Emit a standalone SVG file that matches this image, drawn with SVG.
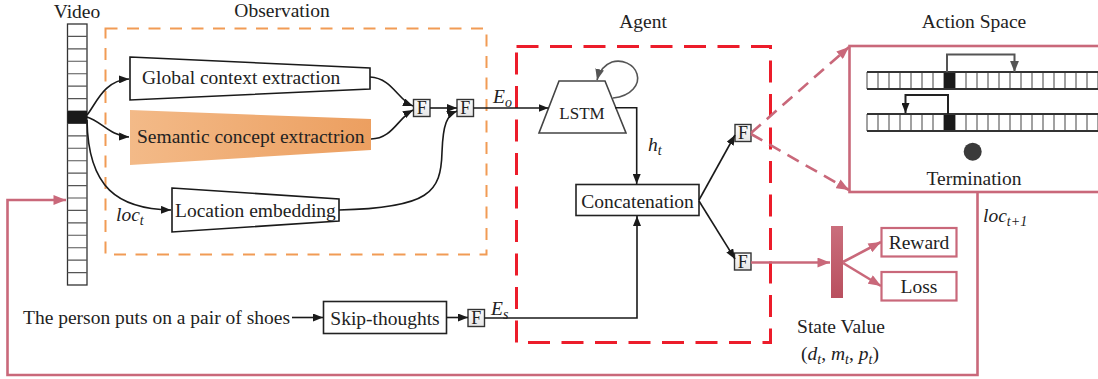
<svg xmlns="http://www.w3.org/2000/svg" width="1098" height="379" viewBox="0 0 1098 379" font-family="'Liberation Serif', 'Times New Roman', serif">
<defs>
<marker id="ab" viewBox="0 0 10 8" refX="10" refY="4" markerWidth="10" markerHeight="8" markerUnits="userSpaceOnUse" orient="auto"><path d="M0,0 L10,4 L0,8 z" fill="#1a1a1a"/></marker>
<marker id="ag" viewBox="0 0 10 8" refX="10" refY="4" markerWidth="11" markerHeight="9" markerUnits="userSpaceOnUse" orient="auto"><path d="M0,0 L10,4 L0,8 z" fill="#555"/></marker>
<marker id="ap" viewBox="0 0 10 8" refX="10" refY="4" markerWidth="13" markerHeight="10" markerUnits="userSpaceOnUse" orient="auto"><path d="M0,0 L10,4 L0,8 z" fill="#C9687A"/></marker>
<linearGradient id="sem" x1="0" y1="0" x2="1" y2="0"><stop offset="0" stop-color="#F3BA88"/><stop offset="1" stop-color="#EC9F60"/></linearGradient>
<linearGradient id="bar" x1="0" y1="0" x2="0" y2="1"><stop offset="0" stop-color="#CA6E7C"/><stop offset="1" stop-color="#B9505F"/></linearGradient>
<linearGradient id="fg" x1="0" y1="0" x2="0" y2="1"><stop offset="0" stop-color="#fbfbfb"/><stop offset="1" stop-color="#e6e6e6"/></linearGradient>
<style>
text{font-family:'Liberation Serif','Times New Roman',serif;fill:#222;font-size:19.5px}
.m{text-anchor:middle}
.it{font-style:italic}
.sub{font-size:14px}
.fb{fill:url(#fg);stroke:#333;stroke-width:1.4}
.ft{font-size:18px;text-anchor:middle}
.box{fill:#fff;stroke:#222;stroke-width:1.6}
.pbox{fill:#fff;stroke:#C9687A;stroke-width:2.2}
.k{fill:none;stroke:#1a1a1a;stroke-width:1.6}
.pk{fill:none;stroke:#C9687A;stroke-width:2.6}
.cell{stroke:#555;stroke-width:1.1}
</style>
</defs>

<!-- containers -->
<g id="observation">
<rect x="105.5" y="28.5" width="381" height="226" fill="none" stroke="#F19B55" stroke-width="2" stroke-dasharray="12 9.5"/>
<text class="m" x="282" y="17">Observation</text>
</g>
<g id="agent">
<rect x="516.5" y="46.5" width="254" height="296" fill="none" stroke="#EC1C2A" stroke-width="3" stroke-dasharray="22 11.5"/>
<text class="m" x="643" y="28">Agent</text>
</g>

<!-- video strip -->
<g id="video">
<text class="m" x="77" y="18">Video</text>
<rect x="67.5" y="24" width="19.5" height="261" fill="#fff" stroke="#333" stroke-width="1.3"/>
<path class="cell" d="M67.5,36.4H87M67.5,48.9H87M67.5,61.3H87M67.5,73.7H87M67.5,86.1H87M67.5,98.6H87M67.5,111H87M67.5,123.4H87M67.5,135.9H87M67.5,148.3H87M67.5,160.7H87M67.5,173.1H87M67.5,185.6H87M67.5,198H87M67.5,210.4H87M67.5,222.9H87M67.5,235.3H87M67.5,247.7H87M67.5,260.1H87M67.5,272.6H87"/>
<rect x="67.5" y="111" width="19.5" height="12.4" fill="#1a1a1a"/>
</g>

<g id="global-context">
<polygon points="130,57 370,68 370,89 130,100" fill="#fff" stroke="#1a1a1a" stroke-width="1.6"/>
<text x="142" y="84">Global context extraction</text>
</g>
<g id="semantic-concept">
<polygon points="130,110 371,119 371,150 130,165" fill="url(#sem)"/>
<text x="137" y="143">Semantic concept extractrion</text>
</g>
<g id="location-embedding">
<polygon points="172,188 339,199 339,221 172,232" fill="#fff" stroke="#1a1a1a" stroke-width="1.6"/>
<text x="175" y="217">Location embedding</text>
</g>
<text class="it" x="116" y="221">loc<tspan class="sub" dy="4">t</tspan></text>

<g id="f1"><rect class="fb" x="413.5" y="99.5" width="16.5" height="17"/><text class="ft" x="421.8" y="114">F</text></g>
<g id="f2"><rect class="fb" x="457" y="99.5" width="16.5" height="17"/><text class="ft" x="465.3" y="114">F</text></g>

<g id="lstm">
<polygon points="559,81 605,81 626,133 539,133" fill="#fff" stroke="#444" stroke-width="1.6"/>
<text class="m" x="582" y="119" style="font-size:17px">LSTM</text>
</g>
<text class="it" x="648" y="151">h<tspan class="sub" dy="4">t</tspan></text>

<g id="concatenation">
<rect class="box" x="576" y="184.5" width="123" height="31"/>
<text class="m" x="637.5" y="207.5">Concatenation</text>
</g>

<g id="f3"><rect class="fb" x="735" y="124.5" width="16" height="17"/><text class="ft" x="743" y="139">F</text></g>
<g id="f4"><rect class="fb" x="734.5" y="253" width="16.5" height="17"/><text class="ft" x="742.8" y="267.5">F</text></g>

<g id="sentence"><text x="23" y="324">The person puts on a pair of shoes</text></g>
<g id="skip-thoughts">
<rect class="box" x="323.5" y="301.5" width="123" height="32"/>
<text class="m" x="385" y="325">Skip-thoughts</text>
</g>
<g id="f5"><rect class="fb" x="468" y="309.5" width="16.5" height="17"/><text class="ft" x="476.3" y="324">F</text></g>
<text class="it" x="491" y="315">E<tspan class="sub" dy="4">s</tspan></text>
<text class="it" x="493" y="103">E<tspan class="sub" dy="4">o</tspan></text>

<g id="action-space">
<text class="m" x="974" y="28">Action Space</text>
<rect x="849.5" y="46" width="270" height="146" fill="none" stroke="#C9687A" stroke-width="2.6"/>
<g id="strip1">
<path class="cell" d="M867,72V89M878,72V89M889,72V89M900,72V89M911,72V89M922,72V89M933,72V89M944,72V89M955,72V89M966,72V89M977,72V89M988,72V89M999,72V89M1010,72V89M1021,72V89M1032,72V89M1043,72V89M1054,72V89M1065,72V89M1076,72V89M1087,72V89M1098,72V89"/>
<rect x="944" y="72" width="11" height="17" fill="#1a1a1a"/>
<path d="M867,72H1098M867,89H1098" stroke="#333" stroke-width="2"/>
</g>
<g id="strip2">
<path class="cell" d="M867,114V131M878,114V131M889,114V131M900,114V131M911,114V131M922,114V131M933,114V131M944,114V131M955,114V131M966,114V131M977,114V131M988,114V131M999,114V131M1010,114V131M1021,114V131M1032,114V131M1043,114V131M1054,114V131M1065,114V131M1076,114V131M1087,114V131M1098,114V131"/>
<rect x="944" y="114" width="11" height="17" fill="#1a1a1a"/>
<path d="M867,114H1098M867,131H1098" stroke="#333" stroke-width="2"/>
</g>
<path d="M947,72V54.5H1014.5V72" fill="none" stroke="#555" stroke-width="2" marker-end="url(#ag)"/>
<path d="M948,114V95H905.5V113" fill="none" stroke="#222" stroke-width="2" marker-end="url(#ab)"/>
<circle cx="972.7" cy="151.7" r="9" fill="#3a3a3a"/>
<text class="m" x="974" y="185">Termination</text>
</g>
<text class="it" x="983" y="222">loc<tspan class="sub" dy="4">t+1</tspan></text>

<g id="state-value">
<rect x="831" y="226" width="12" height="72" fill="url(#bar)"/>
<text class="m" x="841" y="333">State Value</text>
<text class="m" x="840" y="360">(<tspan class="it">d</tspan><tspan class="sub it" dy="4">t</tspan><tspan dy="-4">, </tspan><tspan class="it">m</tspan><tspan class="sub it" dy="4">t</tspan><tspan dy="-4">, </tspan><tspan class="it">p</tspan><tspan class="sub it" dy="4">t</tspan><tspan dy="-4">)</tspan></text>
</g>
<g id="reward"><rect class="pbox" x="881.5" y="228" width="75" height="28.5"/><text class="m" x="919" y="249">Reward</text></g>
<g id="loss"><rect class="pbox" x="881.5" y="272" width="75" height="28.5"/><text class="m" x="919" y="293">Loss</text></g>

<g id="connectors">
<path class="k" d="M87,115 C96,104 104,80 129,79" marker-end="url(#ab)"/>
<path class="k" d="M87,117 C101,121 110,136 129,137" marker-end="url(#ab)"/>
<path class="k" d="M87,120 C88,188 118,209 171,210" marker-end="url(#ab)"/>
<path class="k" d="M370,77 C392,78 398,100 413,106" marker-end="url(#ab)"/>
<path class="k" d="M371,139 C392,139 398,118 413,110" marker-end="url(#ab)"/>
<path class="k" d="M430,108 H457" marker-end="url(#ab)"/>
<path class="k" d="M339,210 C430,208 441,192 442,152 C443,124 447,115 457,111" marker-end="url(#ab)"/>
<path class="k" d="M473.5,108 H548.5" marker-end="url(#ab)"/>
<path d="M613,98 C632,96 640,84 637,74 C634,64 622,59 612,62 C604,65 599,72 597,80" fill="none" stroke="#555" stroke-width="1.6" marker-end="url(#ag)"/>
<path class="k" d="M615,107.7 H636.7 V184" marker-end="url(#ab)"/>
<path class="k" d="M699,200 L735,135" marker-end="url(#ab)"/>
<path class="k" d="M699,201 L735,259" marker-end="url(#ab)"/>
<path class="k" d="M292,317.5 H323" marker-end="url(#ab)"/>
<path class="k" d="M446.5,317.5 H468" marker-end="url(#ab)"/>
<path class="k" d="M484.5,318 H637 V216" marker-end="url(#ab)"/>
<path class="pk" d="M751,133 L849,47" stroke-dasharray="13 8" marker-end="url(#ap)"/>
<path class="pk" d="M751,134 L849,190" stroke-dasharray="13 8" marker-end="url(#ap)"/>
<path class="pk" d="M751,262.5 H830" marker-end="url(#ap)"/>
<path class="pk" d="M843,262 L881,242" marker-end="url(#ap)"/>
<path class="pk" d="M843,263 L881,286" marker-end="url(#ap)"/>
<path class="pk" d="M977.5,192 V375 H7.5 V200 H66" marker-end="url(#ap)"/>
</g>
</svg>
